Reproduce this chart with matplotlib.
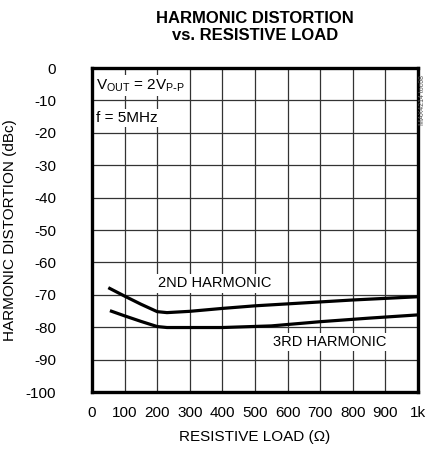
import matplotlib.pyplot as plt
from matplotlib.ticker import FixedLocator

plt.rcParams['font.family'] = ['Liberation Sans Narrow', 'Liberation Sans', 'DejaVu Sans']

# data
load_2nd = [50, 100, 150, 200, 230, 300, 400, 500, 600, 700, 800, 900, 1000]
hd_2nd = [-67.8, -70.4, -72.9, -75.2, -75.5, -75.1, -74.2, -73.4, -72.8, -72.2, -71.6, -71.1, -70.6]
load_3rd = [55, 100, 150, 200, 230, 300, 400, 550, 700, 850, 1000]
hd_3rd = [-74.9, -76.5, -78.2, -79.8, -80.1, -80.1, -80.1, -79.6, -78.3, -77.2, -76.2]

x_ticks = [0, 100, 200, 300, 400, 500, 600, 700, 800, 900, 1000]
x_labels = ['0', '100', '200', '300', '400', '500', '600', '700', '800', '900', '1k']
y_ticks = [0, -10, -20, -30, -40, -50, -60, -70, -80, -90, -100]

fs = 10.5

fig = plt.figure(figsize=(4.27, 4.53), dpi=100)
ax = fig.add_axes([92 / 427, 1 - 392 / 453, 326 / 427, 324 / 453])

ax.plot(load_2nd, hd_2nd, color='black', lw=2.3, solid_capstyle='butt', zorder=5)
ax.plot(load_3rd, hd_3rd, color='black', lw=2.3, solid_capstyle='butt', zorder=5)

ax.set_xlim(0, 1000)
ax.set_ylim(-100, 0)
ax.xaxis.set_major_locator(FixedLocator(x_ticks))
ax.yaxis.set_major_locator(FixedLocator(y_ticks))
ax.set_xticklabels(x_labels)
ax.set_yticklabels([str(v) for v in y_ticks])
ax.tick_params(length=0, labelsize=fs + 0.5, pad=10)
ax.tick_params(axis='y', pad=26)
ax.grid(True, color='#333333', lw=0.9)
ax.set_axisbelow(True)
for s in ax.spines.values():
    s.set_linewidth(2.4)
    s.set_zorder(6)

box = dict(facecolor='white', edgecolor='none', pad=1.5)
ax.text(12, -5.5, r'V$_{\mathregular{OUT}}$ = 2V$_{\mathregular{P\text{-}P}}$', fontsize=fs + 0.5,
        va='center', ha='left', bbox=box, zorder=4)
ax.text(12, -15.5, 'f = 5MHz', fontsize=fs + 0.5, va='center', ha='left', bbox=box, zorder=4)
ax.text(203, -66.5, '2ND HARMONIC', fontsize=fs, va='center', ha='left', bbox=box, zorder=4)
ax.text(555, -84.5, '3RD HARMONIC', fontsize=fs, va='center', ha='left', bbox=box, zorder=4)

ax.set_xlabel('RESISTIVE LOAD (Ω)', fontsize=fs + 0.5, labelpad=7)
ax.set_ylabel('HARMONIC DISTORTION (dBc)', fontsize=fs + 0.5, labelpad=6)

fig.text(255 / 427, 1 - 27 / 453, 'HARMONIC DISTORTION\nvs. RESISTIVE LOAD', ha='center',
         va='center', fontsize=12, fontweight='bold', linespacing=1.15)
fig.text(423 / 427, 1 - 100 / 453, 'MAX4214 toc08', rotation=90, fontsize=5,
         color='#555555', ha='center', va='center')

fig.savefig('out.png', dpi=100)
